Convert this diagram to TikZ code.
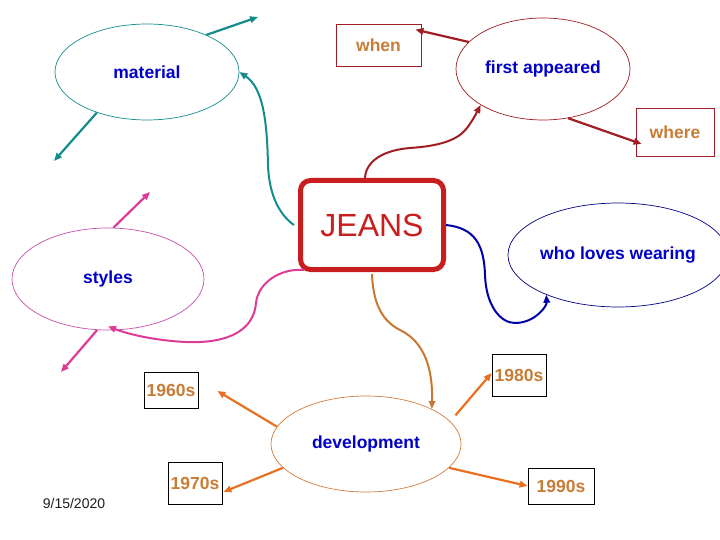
\documentclass[tikz,border=0pt]{standalone}
\usepackage{fontspec}
\setmainfont{Liberation Sans}
\usetikzlibrary{shapes.geometric,arrows.meta,calc}
\definecolor{tealc}{RGB}{20,140,140}
\definecolor{fared}{RGB}{160,30,35}
\definecolor{jred}{RGB}{200,30,30}
\definecolor{navyc}{RGB}{0,0,165}
\definecolor{navyl}{RGB}{0,0,128}
\definecolor{pinkc}{RGB}{220,60,150}
\definecolor{pinkl}{RGB}{200,80,170}
\definecolor{orarr}{RGB}{232,112,32}
\definecolor{orcur}{RGB}{200,120,50}
\definecolor{orell}{RGB}{210,125,60}
\definecolor{txtblue}{RGB}{0,0,200}
\definecolor{txtor}{RGB}{200,125,55}
\newcommand\bfl{\fontsize{17.5}{20}\selectfont\bfseries}
\begin{document}
\begin{tikzpicture}[x=1pt,y=-1pt,
  ell/.style={ellipse, draw, line width=0.7pt, inner sep=0pt, font=\bfl, text=txtblue},
  lbox/.style={draw, line width=0.8pt, inner sep=0pt, font=\bfl, text=txtor},
  arr/.style={-{Triangle[length=8pt,width=6.5pt]}, line width=2.2pt},
  curv/.style={-{Triangle[length=8pt,width=6.5pt]}, line width=2pt}]
\useasboundingbox[fill=white] (0,0) rectangle (720,540);

% ellipses
\node[ell, draw=tealc, minimum width=184pt, minimum height=96pt] (mat) at (147,72) {material};
\node[ell, draw=fared, minimum width=174pt, minimum height=102pt] (fa) at (543,69) {first appeared};
\node[ell, draw=navyl, minimum width=192pt, minimum height=104pt] (who) at (618,255) {\raisebox{-2pt}{who loves wearing}};
\node[ell, draw=pinkl, minimum width=192pt, minimum height=102pt] (sty) at (108,279) {\raisebox{-2pt}{styles}};
\node[ell, draw=orell, minimum width=190pt, minimum height=96pt] (dev) at (366,444) {development};

% central box
\node[draw=jred, line width=5pt, rounded corners=10pt, minimum width=143pt, minimum height=89pt,
      inner sep=0pt, text=jred, font=\fontsize{32}{36}\selectfont] (jeans) at (372,225) {JEANS};

% label boxes
\node[lbox, draw=fared, minimum width=85pt, minimum height=42pt] (when) at (378.5,45) {when};
\node[lbox, draw=fared, minimum width=78pt, minimum height=48pt] (where) at (675,132) {where};
\node[lbox, draw=black, minimum width=54pt, minimum height=36pt] (y60) at (171,390) {1960s};
\node[lbox, draw=black, minimum width=54pt, minimum height=42pt] (y70) at (195,483) {1970s};
\node[lbox, draw=black, minimum width=54pt, minimum height=42pt] (y80) at (519,375) {1980s};
\node[lbox, draw=black, minimum width=66pt, minimum height=36pt] (y90) at (561,486) {1990s};

% date
\node[font=\fontsize{14}{16}\selectfont, text={rgb,255:red,30;green,30;blue,30}] (date) at (74,503) {9/15/2020};

% free ends
\coordinate (mtr) at (258,17);
\coordinate (mbl) at (54,161);
\coordinate (str) at (150,192);
\coordinate (sbl) at (61,372);

% material arrows
\draw[arr, tealc] (mat.32) -- (mtr);
\draw[arr, tealc] (mat.219) -- (mbl);
\draw[curv, tealc] ([xshift=-4pt]jeans.west) .. controls (281,216) and (269,197) .. (268,165)
   .. controls (267,120) and (263,88) .. (mat.east);

% first appeared arrows
\draw[arr, fared] (fa.160) -- ($(when.north east)+(-6,6)$);
\draw[arr, fared] (fa.297) -- ($(where.west)+(6,12)$);
\draw[curv, fared] ([xshift=-7pt]jeans.north) .. controls (366,160) and (385,150) .. (410,148)
   .. controls (440,146) and (458,140) .. (467,128) .. controls (473,120) and (477,112) .. (fa.210);

% who loves wearing
\draw[curv, navyc] (jeans.east) .. controls (475,228) and (484,245) .. (485,275)
   .. controls (486,305) and (500,323) .. (515,323) .. controls (535,323) and (547,306) .. (who.209);

% styles
\draw[arr, pinkc] (sty.84) -- (str);
\draw[arr, pinkc] (sty.258) -- (sbl);
\draw[curv, pinkc] ($(jeans.south west)+(6,-2)$) .. controls (280,268) and (258,283) .. (256,303)
   .. controls (254,328) and (232,344) .. (185,342) .. controls (150,340) and (125,333) .. ([yshift=4pt]sty.south);

% development
\draw[curv, orcur] ([yshift=-2pt]jeans.south) .. controls (373,300) and (380,320) .. (400,330)
   .. controls (425,342) and (433,370) .. (dev.28);
\draw[arr, orarr] (dev.169) -- ($(y60.east)+(19,1)$);
\draw[arr, orarr] (dev.196) -- ($(y70.east)+(1,9)$);
\draw[arr, orarr, shorten <=8pt] (dev.15) -- ([yshift=2pt]y80.west);
\draw[arr, orarr] (dev.344) -- (y90.west);
\end{tikzpicture}
\end{document}
